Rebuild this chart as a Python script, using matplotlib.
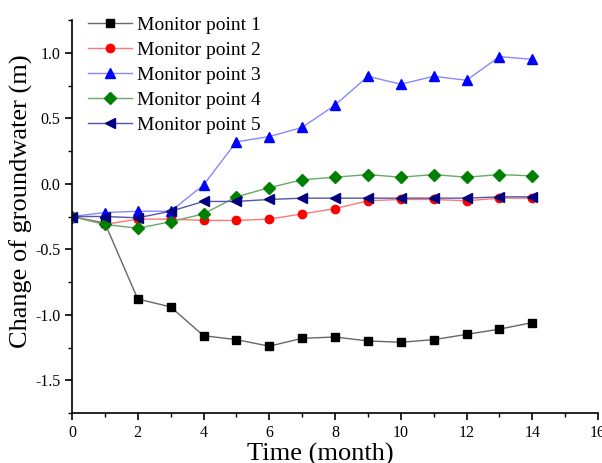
import matplotlib
matplotlib.use('Agg')
import matplotlib.pyplot as plt
from matplotlib.ticker import MultipleLocator

# ── Datos ────────────────────────────────────────────────────────────────────
months = [0, 1, 2, 3, 4, 5, 6, 7, 8, 9, 10, 11, 12, 13, 14]
mp1 = [-0.25, -0.30, -0.88, -0.94, -1.16, -1.19, -1.24, -1.18, -1.17, -1.20, -1.21, -1.19, -1.15, -1.11, -1.06]
mp2 = [-0.25, -0.31, -0.27, -0.27, -0.28, -0.28, -0.27, -0.23, -0.19, -0.13, -0.12, -0.12, -0.13, -0.11, -0.11]
mp3 = [-0.25, -0.22, -0.21, -0.21, -0.01, 0.32, 0.36, 0.43, 0.60, 0.82, 0.76, 0.82, 0.79, 0.97, 0.95]
mp4 = [-0.25, -0.31, -0.34, -0.29, -0.23, -0.10, -0.03, 0.03, 0.05, 0.07, 0.05, 0.07, 0.05, 0.07, 0.06]
mp5 = [-0.25, -0.25, -0.26, -0.21, -0.135, -0.135, -0.12, -0.11, -0.11, -0.11, -0.11, -0.11, -0.11, -0.10, -0.10]
labels = ['Monitor point 1', 'Monitor point 2', 'Monitor point 3',
          'Monitor point 4', 'Monitor point 5']

plt.rcParams['font.family'] = ['Liberation Serif', 'DejaVu Serif']

fig = plt.figure(figsize=(6.02, 4.63), dpi=100)
ax = fig.add_axes([72 / 602, 1 - 413 / 463, 526 / 602, 393 / 463])

# (serie, color de marcador, color de línea, marcador, tamaño)
styles = [
    (mp1, 'black', '#666666', 's', 6),
    (mp2, 'red', '#ff7777', 'o', 6),
    (mp3, 'blue', '#8888ff', '^', 7),
    (mp4, 'green', '#66aa66', 'D', 6),
    (mp5, 'navy', '#5555aa', '<', 7),
]
for (ys, mc, lc, mk, ms), lab in zip(styles, labels):
    ax.plot(months, ys, color=lc, lw=1.0, marker=mk, ms=ms,
            mfc=mc, mec=mc, label=lab)

ax.set_xlim(0, 16)
ax.set_ylim(-1.75, 1.25)
ax.xaxis.set_major_locator(MultipleLocator(2))
ax.xaxis.set_minor_locator(MultipleLocator(1))
ax.yaxis.set_minor_locator(MultipleLocator(0.25))
ax.set_yticks([-1.5, -1.0, -0.5, 0.0, 0.5, 1.0])
ax.yaxis.set_major_formatter(plt.FuncFormatter(lambda v, p: f'{v:.1f}'))

for s in ['top', 'right']:
    ax.spines[s].set_visible(False)
for s in ['left', 'bottom']:
    ax.spines[s].set_linewidth(1.2)
ax.tick_params(which='major', direction='out', length=5, width=1.2, labelsize=11.5)
ax.tick_params(which='minor', direction='out', length=3, width=1.0)

ax.set_xlabel('Time (month)', fontsize=19)
ax.set_ylabel('Change of groundwater (m)', fontsize=19)
ax.xaxis.set_label_coords(0.4715, -0.075)
ax.yaxis.set_label_coords(-0.074, 0.54)

ax.legend(loc='upper left', bbox_to_anchor=(0.015, 1.03), frameon=False,
          fontsize=14, handlelength=2.3, labelspacing=0.38,
          handletextpad=0.25, borderaxespad=0.0)

fig.savefig('out.png', dpi=100)
